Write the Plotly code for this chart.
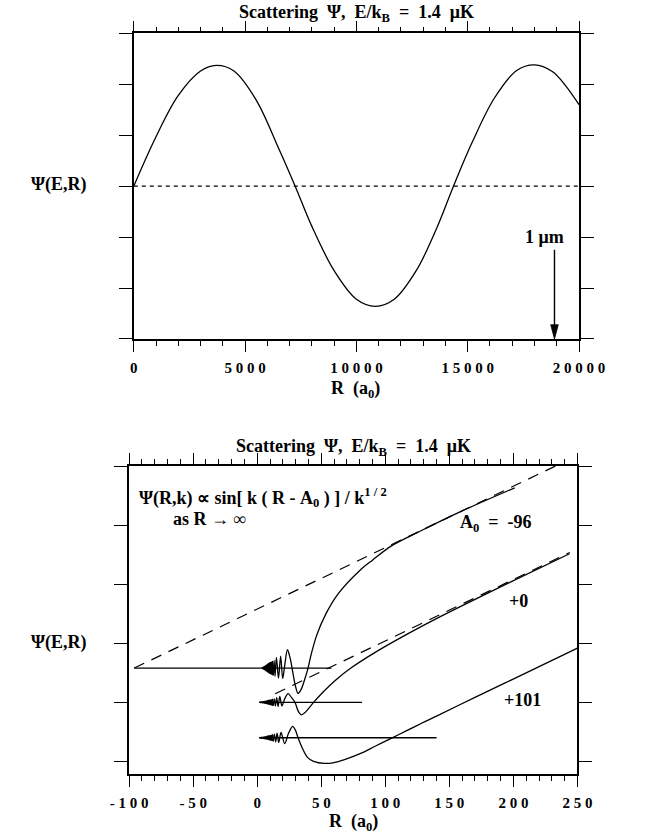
import plotly.graph_objects as go

W, H = 650, 833

# ---------------- upper panel: long-range scattering wavefunction ----------------
R_long = [0, 1000, 2000, 3000, 3700, 4500, 5500, 6500, 7250, 8000, 9000, 10000,
          10850, 11700, 12700, 13600, 14360, 15200, 16200, 17200, 18000, 18800,
          19400, 20000]
psi_long = [0.0, 0.97, 1.78, 2.26, 2.37, 2.26, 1.69, 0.75, 0.0, -0.79, -1.66, -2.22,
            -2.36, -2.22, -1.65, -0.83, 0.0, 0.86, 1.73, 2.27, 2.38, 2.25,
            1.97, 1.60]
R_long_ticks = [0, 5000, 10000, 15000, 20000]
psi_long_ticks = [-3, -2, -1, 0, 1, 2, 3]
one_micron_a0 = 18897          # 1 um expressed in Bohr radii

# ---------------- lower panel: short-range wavefunctions ----------------
A0_values = [-96, 0, 101]
offsets = [1.58, 1.00, 0.40]          # vertical display offset of each curve
baseline_R = [[-96, 58], [1.6, 81.8], [1.6, 140]]
asymptote_slope = 0.0104             # slope of the dashed linear asymptotes
asymptote_R = [[-96, 236], [14, 244]]

# dense inner oscillations (drawn as a zig-zag) and the outer smooth part
wedge_R1 = [3.6, 4.0, 4.4, 4.8, 5.2, 5.6, 6.0, 6.4, 6.8, 7.2, 7.6, 8.0, 8.4, 8.8,
            9.2, 9.6, 10.0, 10.4, 10.8, 11.2, 11.6, 12.0, 12.5]
wedge_psi1 = [0.0, 0.012, -0.018, 0.024, -0.030, 0.036, -0.042, 0.048, -0.054, 0.060,
              -0.066, 0.072, -0.078, 0.084, -0.090, 0.096, -0.100, 0.104, -0.108,
              0.112, -0.116, 0.120, -0.124]
outer_R1 = [12.5, 13.2, 13.9, 15.0, 16.6, 18.3, 19.9, 21.5, 23.6, 25.6, 27.6, 29.8,
            31.9, 34.3, 36.8, 39.7, 41.6, 46.4, 53.7, 63.3, 80.3, 90.0, 104.5, 126.3,
            160.0, 201.0]
outer_psi1 = [-0.124, 0.13, -0.14, 0.18, -0.17, 0.20, -0.18, 0.05, 0.31, 0.18, -0.05,
              -0.30, -0.43, -0.36, -0.21, 0.0, 0.185, 0.553, 0.922, 1.261, 1.657,
              1.827, 2.064, 2.307, 2.66, 3.05]

wedge_R2 = [1.6, 2.0, 2.5, 3.0, 3.5, 4.0, 4.5, 5.0, 5.5, 6.0, 6.5, 7.0, 7.5, 8.0,
            8.5, 9.0, 9.5, 10.0, 10.5, 11.0, 11.5, 12.0, 12.5]
wedge_psi2 = [0.0, 0.004, -0.006, 0.009, -0.011, 0.014, -0.016, 0.019, -0.022, 0.025,
              -0.027, 0.030, -0.033, 0.036, -0.038, 0.041, -0.044, 0.047, -0.049,
              0.052, -0.055, 0.058, -0.060]
outer_R2 = [12.5, 13.3, 14.2, 15.2, 16.3, 17.6, 19.3, 21.5, 24.1, 26.8, 29.5, 32.0,
            34.3, 37.5, 41.0, 44.0, 51.3, 60.9, 73.1, 92.4, 116.7, 141.0, 190.0, 243.8]
outer_psi2 = [-0.060, 0.06, -0.06, 0.08, -0.07, 0.10, -0.06, 0.06, 0.148, 0.08, 0.0,
              -0.15, -0.212, -0.17, -0.08, 0.0, 0.171, 0.370, 0.58, 0.85, 1.15,
              1.43, 1.955, 2.515]

wedge_R3 = [1.6, 2.0, 2.5, 3.0, 3.5, 4.0, 4.5, 5.0, 5.5, 6.0, 6.5, 7.0, 7.5, 8.0,
            8.5, 9.0, 9.5, 10.0, 10.5, 11.0, 11.5, 12.0, 12.5]
wedge_psi3 = [0.0, 0.004, -0.006, 0.009, -0.011, 0.014, -0.016, 0.019, -0.022, 0.025,
              -0.027, 0.030, -0.033, 0.036, -0.038, 0.041, -0.044, 0.047, -0.049,
              0.052, -0.055, 0.058, -0.060]
outer_R3 = [12.5, 13.4, 14.4, 15.5, 16.8, 18.6, 21.5, 24.5, 27.7, 29.8, 31.9, 35.3,
            39.2, 44.0, 52.5, 60.0, 68.2, 80.3, 92.4, 104.6, 116.7, 128.7, 140.8,
            170.0, 199.0, 250.0]
outer_psi3 = [-0.060, 0.06, -0.07, 0.08, -0.08, 0.09, -0.10, 0.08, 0.194, 0.13, 0.0,
              -0.18, -0.332, -0.40, -0.434, -0.42, -0.37, -0.27, -0.14, -0.01,
              0.12, 0.25, 0.375, 0.685, 0.985, 1.518]

R_short_ticks = [-100, -50, 0, 50, 100, 150, 200, 250]
psi_short_ticks = [0, 1, 2, 3, 4, 5]

wedges = [(wedge_R1, wedge_psi1), (wedge_R2, wedge_psi2), (wedge_R3, wedge_psi3)]
outers = [(outer_R1, outer_psi1), (outer_R2, outer_psi2), (outer_R3, outer_psi3)]

SERIF = "Liberation Serif, Times New Roman, serif"
NB = "\u00a0"


def spaced(v):
    # tick numbers are set with open letter spacing
    return " ".join(str(v))


def px(x, y):
    """pixel position -> paper coordinates"""
    return x / W, 1 - y / H


fig = go.Figure()

# upper panel traces
fig.add_trace(go.Scatter(x=[R_long[0], R_long[-1]], y=[0, 0], mode="lines",
                         line=dict(color="black", width=1.1, dash="4px,4px"),
                         xaxis="x", yaxis="y", hoverinfo="skip"))
fig.add_trace(go.Scatter(x=R_long, y=psi_long, mode="lines",
                         line=dict(color="black", width=1.3, shape="spline"),
                         xaxis="x", yaxis="y"))

# 1 um marker: vertical shaft and a filled head touching the axis
head_half_w = 170      # a0
head_len = 0.28        # y units
shaft_top = -1.25
y_axis_bottom = psi_long_ticks[0]
fig.add_trace(go.Scatter(x=[one_micron_a0, one_micron_a0],
                         y=[shaft_top, y_axis_bottom + head_len], mode="lines",
                         line=dict(color="black", width=1.4),
                         xaxis="x", yaxis="y", hoverinfo="skip"))
fig.add_trace(go.Scatter(x=[one_micron_a0 - head_half_w, one_micron_a0 + head_half_w,
                            one_micron_a0, one_micron_a0 - head_half_w],
                         y=[y_axis_bottom + head_len, y_axis_bottom + head_len,
                            y_axis_bottom, y_axis_bottom + head_len],
                         mode="lines", fill="toself", fillcolor="black",
                         line=dict(color="black", width=0.8),
                         xaxis="x", yaxis="y", hoverinfo="skip"))

# lower panel traces
for i, off in enumerate(offsets):
    r0, r1 = baseline_R[i]
    fig.add_trace(go.Scatter(x=[r0, r1], y=[off, off], mode="lines",
                             line=dict(color="black", width=1.3),
                             xaxis="x2", yaxis="y2", hoverinfo="skip"))
for i, (ra, rb) in enumerate(asymptote_R):
    a0, off = A0_values[i], offsets[i]
    ys = [off + asymptote_slope * (r - a0) for r in (ra, rb)]
    fig.add_trace(go.Scatter(x=[ra, rb], y=ys, mode="lines",
                             line=dict(color="black", width=1.2, dash="11px,8px"),
                             xaxis="x2", yaxis="y2", hoverinfo="skip"))
for i, off in enumerate(offsets):
    wr, wp = wedges[i]
    fig.add_trace(go.Scatter(x=wr, y=[off + p for p in wp], mode="lines",
                             line=dict(color="black", width=1.1),
                             xaxis="x2", yaxis="y2"))
    orr, op = outers[i]
    fig.add_trace(go.Scatter(x=orr, y=[off + p for p in op], mode="lines",
                             line=dict(color="black", width=1.3, shape="spline",
                                       smoothing=0.9),
                             xaxis="x2", yaxis="y2"))

axis_common = dict(showline=True, linecolor="black", linewidth=1.5, mirror="ticks",
                   ticks="outside", tickcolor="black", tickwidth=1.2,
                   showgrid=False, zeroline=False, fixedrange=True)
tickfont = dict(family=SERIF, size=15, color="black", weight="bold")

fig.update_layout(
    width=W, height=H, autosize=False,
    margin=dict(l=0, r=0, t=0, b=0),
    paper_bgcolor="white", plot_bgcolor="white", showlegend=False,
    xaxis=dict(axis_common, domain=[123.3 / W, 601.7 / W], range=[0, 20000],
               anchor="y", tickvals=R_long_ticks,
               ticktext=[spaced(v) for v in R_long_ticks],
               tickfont=tickfont, ticklen=11, ticklabelstandoff=3,
               minor=dict(dtick=1000, tick0=0, ticks="outside", ticklen=5,
                          tickcolor="black", tickwidth=1.1)),
    yaxis=dict(axis_common, domain=[1 - 339 / H, 1 - 33.3 / H],
               range=[-3.0005, 3.0005], anchor="x", tickvals=psi_long_ticks,
               showticklabels=False, ticklen=13),
    xaxis2=dict(axis_common, domain=[118.3 / W, 600 / W], range=[-100, 250],
                anchor="y2", tickvals=R_short_ticks,
                ticktext=[spaced(v) for v in R_short_ticks],
                tickfont=tickfont, ticklen=11, ticklabelstandoff=3,
                minor=dict(dtick=10, tick0=0, ticks="outside", ticklen=5,
                           tickcolor="black", tickwidth=1.1)),
    yaxis2=dict(axis_common, domain=[1 - 774.4 / H, 1 - 466 / H],
                range=[-0.22, 5.0005], anchor="x2", tickvals=psi_short_ticks,
                showticklabels=False, ticklen=13),
)

title_txt = ("Scattering" + NB + NB + "Ψ," + NB + NB + "E/k<sub>B</sub>" + NB + NB
             + "=" + NB + NB + "1.4" + NB + NB + "μK")


def label(x, y, text, size=18, xanchor="center"):
    px_x, px_y = px(x, y)
    fig.add_annotation(x=px_x, y=px_y, xref="paper", yref="paper", text=text,
                       showarrow=False, xanchor=xanchor, yanchor="middle",
                       font=dict(family=SERIF, size=size, color="black",
                                 weight="bold"))


# titles and axis labels
label(362.5, 13, title_txt)
label(359.5, 447.5, title_txt)
label(361, 389, "R" + NB + NB + "(a<sub>0</sub>)")
label(359.5, 822, "R" + NB + NB + "(a<sub>0</sub>)")
label(43, 185, "Ψ(E,R)")
label(43, 642, "Ψ(E,R)")
label(565, 237, "1" + NB + "μm")

# asymptotic form and A0 labels
label(126.7, 497, "Ψ(R,k)" + NB + "∝" + NB + "sin[" + NB + "k" + NB + "(" + NB + "R"
      + NB + "-" + NB + "A<sub>0</sub>" + NB + ")" + NB + "]" + NB + "/" + NB
      + "k<sup>1 / 2</sup>", xanchor="left")
label(163.3, 518.5, "as" + NB + "R" + NB + "→" + NB + "∞", xanchor="left")
label(513, 523, "A<sub>0</sub>" + NB + NB + "=" + NB + NB + "-96")
label(536.3, 601, "+0")
label(541.3, 700, "+101")

fig.write_html("out.html")
